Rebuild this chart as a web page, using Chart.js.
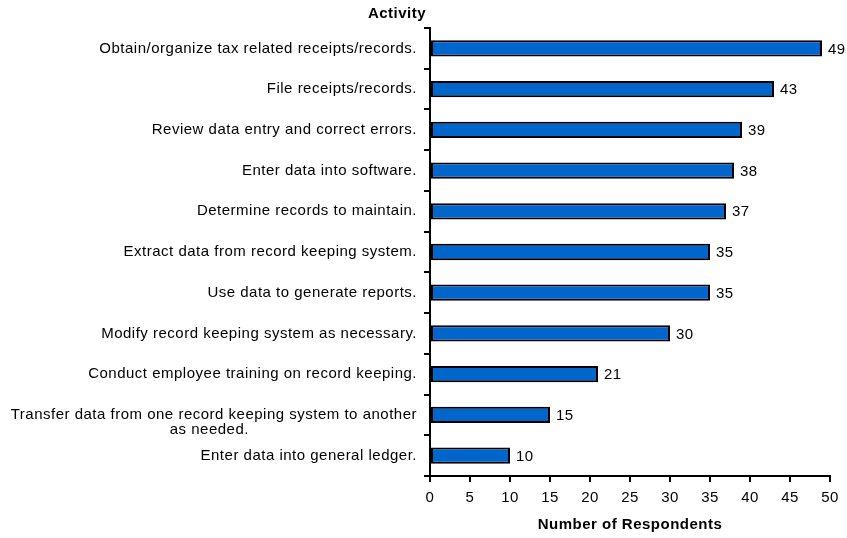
<!DOCTYPE html>
<html>
<head>
<meta charset="utf-8">
<script src="https://cdn.jsdelivr.net/npm/chart.js@4.4.0/dist/chart.umd.min.js"></script>
<style>
  html, body { margin: 0; padding: 0; background: #fff; }
  #wrap { width: 847px; height: 538px; }
</style>
</head>
<body>
<div id="wrap"><canvas id="barChart"></canvas></div>
<script>
var activities = [
    "Obtain/organize tax related receipts/records.",
    "File receipts/records.",
    "Review data entry and correct errors.",
    "Enter data into software.",
    "Determine records to maintain.",
    "Extract data from record keeping system.",
    "Use data to generate reports.",
    "Modify record keeping system as necessary.",
    "Conduct employee training on record keeping.",
    ["Transfer data from one record keeping system to another", "as needed."],
    "Enter data into general ledger."
];
var respondents = [49, 43, 39, 38, 37, 35, 35, 30, 21, 15, 10];
var xTicks = [0, 5, 10, 15, 20, 25, 30, 35, 40, 45, 50];

var fontFamily = "'Liberation Sans', Arial, sans-serif";
var spacing = '0.5px';

// wide letter spacing like the original, value labels, "Activity" title
var extras = {
    id: 'extras',
    beforeDraw: function (chart) {
        chart.ctx.letterSpacing = spacing;
    },
    afterDatasetsDraw: function (chart) {
        var ctx = chart.ctx;
        var meta = chart.getDatasetMeta(0);
        ctx.save();
        ctx.letterSpacing = spacing;
        ctx.fillStyle = '#000';
        ctx.font = '15px ' + fontFamily;
        ctx.textAlign = 'left';
        ctx.textBaseline = 'middle';
        meta.data.forEach(function (bar, i) {
            ctx.fillText(respondents[i], bar.x + 6, bar.y + 1);
        });
        ctx.font = 'bold 15px ' + fontFamily;
        ctx.textAlign = 'center';
        ctx.fillText('Activity', chart.chartArea.left - 33, 14);
        ctx.restore();
    }
};

var ctxB = document.getElementById("barChart").getContext('2d');

var myBarChart = new Chart(ctxB, {
    type: 'bar',
    data: {
        labels: activities,
        datasets: [{
            label: "Number of Respondents",
            data: respondents,
            backgroundColor: '#0066CC',
            borderColor: '#000000',
            borderWidth: 2,
            borderSkipped: false,
            barPercentage: 0.4,
            categoryPercentage: 1.0
        }]
    },
    options: {
        indexAxis: 'y',
        responsive: true,
        maintainAspectRatio: false,
        animation: false,
        layout: { padding: { top: 28, right: 17, left: 0, bottom: 0 } },
        plugins: {
            legend: { display: false },
            tooltip: { enabled: false }
        },
        scales: {
            x: {
                min: 0,
                max: 50,
                afterBuildTicks: function (scale) {
                    scale.ticks = xTicks.map(function (v) { return { value: v }; });
                },
                afterFit: function (scale) { scale.height = 62; },
                grid: {
                    drawOnChartArea: false,
                    drawTicks: true,
                    tickLength: 6,
                    color: '#000',
                    lineWidth: 2
                },
                border: { color: '#000', width: 2 },
                ticks: {
                    color: '#000',
                    padding: 7,
                    font: { family: fontFamily, size: 15 }
                },
                title: {
                    display: true,
                    text: 'Number of Respondents',
                    color: '#000',
                    font: { family: fontFamily, size: 15, weight: 'bold' },
                    padding: { top: 4, bottom: 4 }
                }
            },
            y: {
                afterFit: function (scale) { scale.width = 430; },
                grid: {
                    offset: true,
                    drawOnChartArea: false,
                    drawTicks: true,
                    tickLength: 6,
                    color: '#000',
                    lineWidth: 2
                },
                border: { color: '#000', width: 2 },
                ticks: {
                    color: '#000',
                    padding: 7,
                    autoSkip: false,
                    font: { family: fontFamily, size: 15, lineHeight: 1.0 },
                    callback: function (value, index) {
                        var lbl = activities[index];
                        if (Array.isArray(lbl)) {
                            // the two-line label sits a bit low and its short line is centred
                            var pad = new Array(37).join(' ');
                            return ['', lbl[0], lbl[1] + pad];
                        }
                        return lbl;
                    }
                }
            }
        }
    },
    plugins: [extras]
});
</script>
</body>
</html>
